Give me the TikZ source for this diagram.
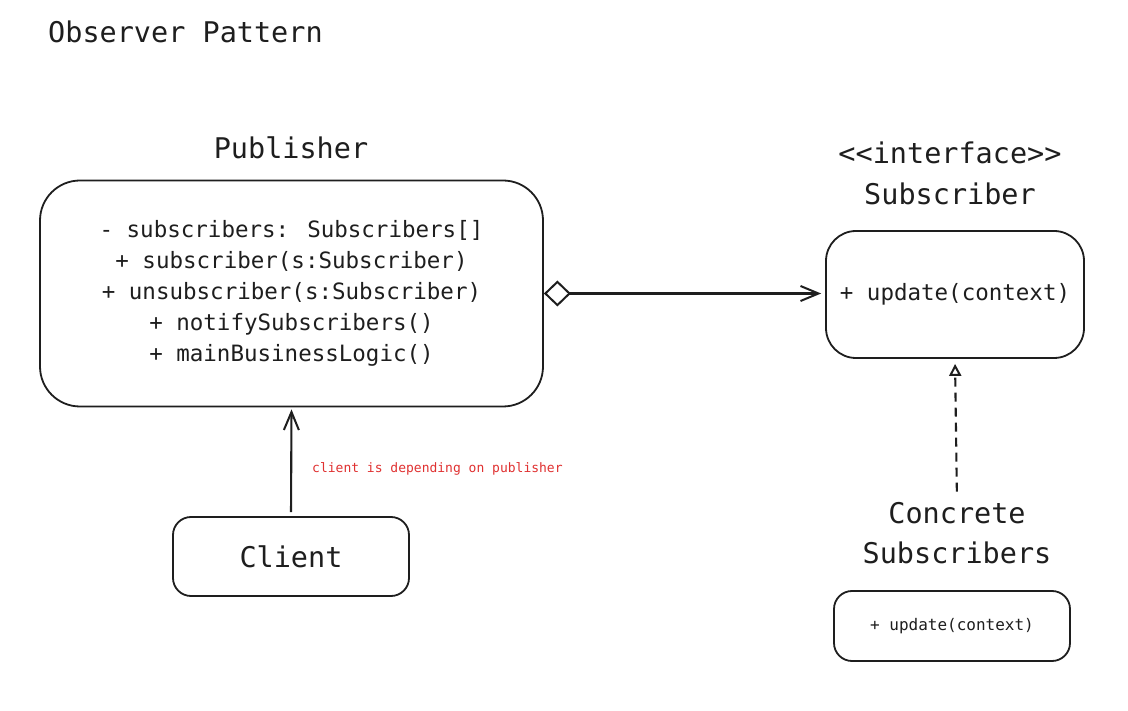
\documentclass[tikz,border=0pt]{standalone}
\usepackage{fontspec}
\setmainfont{DejaVu Sans Mono}
\usetikzlibrary{arrows.meta}
\definecolor{ink}{HTML}{1E1E1E}
\definecolor{note}{HTML}{E03131}
\begin{document}
\begin{tikzpicture}[x=1pt,y=-1pt,
  big/.style={font=\fontsize{28.5}{40}\selectfont, text=ink, inner sep=0pt},
  mid/.style={font=\fontsize{22.5}{31}\selectfont, text=ink},
  small/.style={font=\fontsize{16}{20}\selectfont, text=ink},
  notetext/.style={font=\fontsize{13}{16}\selectfont, text=note, inner sep=0pt},
  box/.style={draw=ink, line width=1.8pt, rounded corners=#1, inner sep=0pt},
  conn/.style={draw=ink, line width=2.1pt},
  barb/.style={-{Straight Barb[length=18pt,width=15pt,line width=2pt]}},
]
\useasboundingbox[fill=white] (0,0) rectangle (1128,711);

\node[big, anchor=base west] (title) at (48,43) {Observer Pattern};

% Publisher
\node[big, anchor=base] (publbl) at (291,159) {Publisher};
\node[box=40pt, mid, align=center, minimum width=503pt, minimum height=226pt] (pub) at (291.5,293.5)
  {- subscribers: Subscribers[]\\+ subscriber(s:Subscriber)\\+ unsubscriber(s:Subscriber)\\+ notifySubscribers()\\+ mainBusinessLogic()};

% Subscriber interface
\node[big, anchor=base] (ifacelbl) at (950,164) {<{}<interface>{}>};
\node[big, anchor=base] (sublbl) at (950,205) {Subscriber};
\node[box=30pt, mid, minimum width=258pt, minimum height=127pt] (sub) at (955,294.5) {+ update(context)};

% Client
\node[box=18pt, big, minimum width=236pt, minimum height=79pt] (client) at (291,556.5) {Client};

% Concrete subscribers
\node[big, align=center] (conlbl) at (957,533.5) {Concrete\\Subscribers};
\node[box=18pt, small, minimum width=236pt, minimum height=70pt] (con) at (952,626) {+ update(context)};

% connectors
\draw[conn, {Diamond[open,length=27pt,width=26pt,line width=2pt]}-{Straight Barb[length=18pt,width=15pt,line width=2pt]}, shorten >=4pt]
  (pub.east) -- (sub.west |- pub.east);
\draw[conn, barb, shorten <=4pt, shorten >=2pt] (client.north) -- (pub.south);
\node[notetext, anchor=base west] (note) at (312,472) {client is depending on publisher};
\draw[conn, dash pattern=on 9pt off 6pt, -{Triangle[open,length=12pt,width=12pt,line width=2pt]}, shorten <=11pt, shorten >=5pt]
  (conlbl.north) -- (sub.south);
\end{tikzpicture}
\end{document}
